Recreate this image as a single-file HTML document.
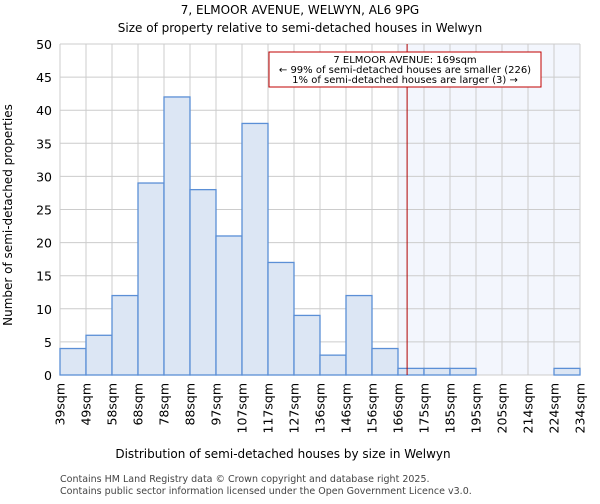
<!DOCTYPE html>
<html><head><meta charset="utf-8"><style>
body{margin:0;background:#fff;font-family:"DejaVu Sans","Liberation Sans",sans-serif;}
</style></head><body>
<svg width="600" height="500" xmlns="http://www.w3.org/2000/svg" font-family="DejaVu Sans, Liberation Sans, sans-serif">
<text x="300" y="14" text-anchor="middle" font-size="12">7, ELMOOR AVENUE, WELWYN, AL6 9PG</text>
<text x="300" y="32" text-anchor="middle" font-size="12">Size of property relative to semi-detached houses in Welwyn</text>
<g id="plot"></g>
<text x="283" y="458" text-anchor="middle" font-size="12">Distribution of semi-detached houses by size in Welwyn</text>
<text transform="translate(12,215) rotate(-90)" text-anchor="middle" font-size="12">Number of semi-detached properties</text>
<text x="60" y="482" font-size="9.5" fill="#444">Contains HM Land Registry data © Crown copyright and database right 2025.</text>
<text x="60" y="494" font-size="9.5" fill="#444">Contains public sector information licensed under the Open Government Licence v3.0.</text>
</svg>
<script>
const categories=["39sqm","49sqm","58sqm","68sqm","78sqm","88sqm","97sqm","107sqm","117sqm","127sqm","136sqm","146sqm","156sqm","166sqm","175sqm","185sqm","195sqm","205sqm","214sqm","224sqm","234sqm"];
const counts=[4,6,12,29,42,28,21,38,17,9,3,12,4,1,1,1,0,0,0,1];
const yTicks=[0,5,10,15,20,25,30,35,40,45,50];
const markerBin=13.35;
const highlightFrom=13;
const NS="http://www.w3.org/2000/svg";
const L=60,R=580,T=44,B=375,yMax=50;
const bw=(R-L)/counts.length;
const x=i=>L+i*bw, y=v=>B-(B-T)*v/yMax;
const g=document.getElementById('plot');
function mk(t,a){const e=document.createElementNS(NS,t);for(const k in a)e.setAttribute(k,a[k]);g.appendChild(e);return e;}
let e=mk('rect',{x:x(highlightFrom),y:T,width:R-x(highlightFrom),height:B-T,fill:'#f3f6fd'});


yTicks.forEach(v=>{
 let l=mk('line',{x1:L,x2:R,y1:y(v),y2:y(v),stroke:'#cccccc'});
 
 
 let t=mk('text',{x:L-8,y:y(v)+5,'text-anchor':'end','font-size':'12.5'});t.textContent=v;
 
 
});
categories.forEach((c,i)=>{
 let l=mk('line',{x1:x(i),x2:x(i),y1:T,y2:B,stroke:'#cccccc'});
 
 
 let t=mk('text',{transform:`translate(${x(i)+4.5},${B+8}) rotate(-90)`,'text-anchor':'end','font-size':'12.5'});t.textContent=c;
 
 
});
counts.forEach((v,i)=>{
 if(v<=0)return;
 let r=mk('rect',{x:x(i),y:y(v),width:bw,height:B-y(v),fill:'#dce6f4',stroke:'#5b8fd6','stroke-width':1.3});
 
 
});
let m=mk('line',{x1:x(markerBin),x2:x(markerBin),y1:T,y2:B,stroke:'#b00000','stroke-width':1});


let bx=mk('rect',{x:269,y:52,width:272,height:35,fill:'#fff',stroke:'#c00000','stroke-width':1});


[["7 ELMOOR AVENUE: 169sqm",63],["← 99% of semi-detached houses are smaller (226)",73],["1% of semi-detached houses are larger (3) →",83]].forEach(([s,yy])=>{
 let t=mk('text',{x:405,y:yy,'text-anchor':'middle','font-size':'10'});t.textContent=s;
 
 
});
</script>
</body></html>
